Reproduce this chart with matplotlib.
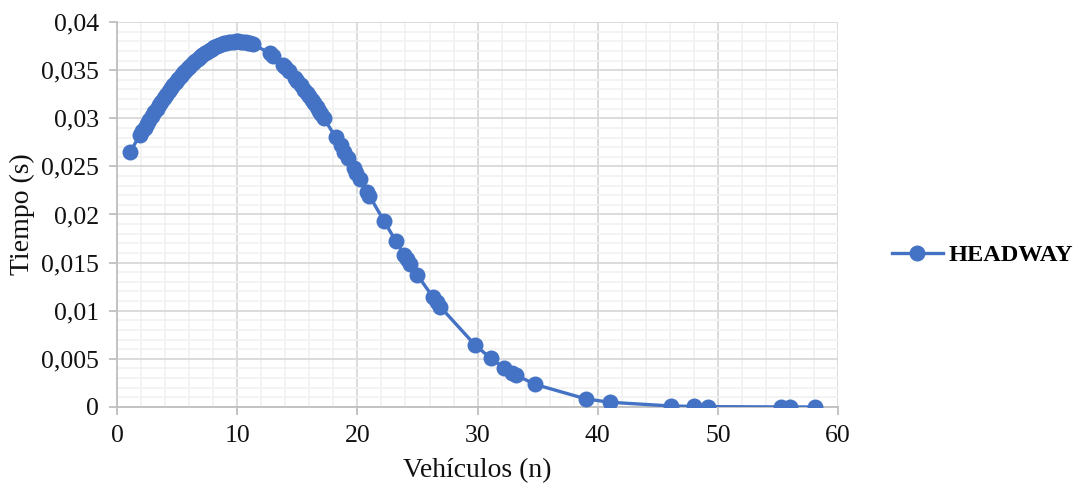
import matplotlib
matplotlib.use("Agg")
import matplotlib.pyplot as plt
from matplotlib.ticker import FuncFormatter, MultipleLocator

# Headway measurements: vehicle count (n) vs time (s)
vehiculos = [
    1.1, 1.9, 2.1, 2.3, 2.5, 2.7, 2.9, 3.1, 3.3, 3.5, 3.7, 3.9, 4.1, 4.3, 4.5,
    4.7, 4.9, 5.1, 5.3, 5.5, 5.7, 5.9, 6.1, 6.3, 6.5, 6.7, 6.9, 7.1, 7.3, 7.5,
    7.7, 7.9, 8.1, 8.3, 8.5, 8.7, 8.9, 9.1, 9.3, 9.5, 9.7, 9.9, 10.1, 10.3,
    10.5, 10.7, 10.9, 11.1, 11.3, 12.7, 13.0, 13.8, 14.0, 14.3, 14.8, 15.0,
    15.3, 15.6, 15.8, 16.0, 16.2, 16.4, 16.6, 16.8, 17.0, 17.2, 18.2, 18.6,
    18.9, 19.2, 19.7, 19.9, 20.2, 20.8, 21.0, 22.2, 23.2, 23.9, 24.1, 24.4,
    25.0, 26.3, 26.6, 26.9, 29.8, 31.1, 32.2, 32.9, 33.2, 34.8, 39.0, 41.0,
    46.1, 48.0, 49.2, 55.2, 56.0, 58.1,
]
headway = [
    0.02653, 0.02821, 0.02863, 0.02903, 0.02944, 0.02983, 0.03023, 0.03061,
    0.03099, 0.03136, 0.03173, 0.03209, 0.03244, 0.03279, 0.03312, 0.03345,
    0.03376, 0.03407, 0.03437, 0.03466, 0.03493, 0.03520, 0.03546, 0.03570,
    0.03594, 0.03616, 0.03637, 0.03657, 0.03676, 0.03693, 0.03709, 0.03724,
    0.03737, 0.03750, 0.03760, 0.03770, 0.03778, 0.03785, 0.03791, 0.03795,
    0.03797, 0.03799, 0.03799, 0.03797, 0.03795, 0.03791, 0.03785, 0.03778,
    0.03770, 0.03676, 0.03647, 0.03558, 0.03533, 0.03493, 0.03422, 0.03392,
    0.03345, 0.03295, 0.03261, 0.03227, 0.03191, 0.03155, 0.03118, 0.03080,
    0.03042, 0.03003, 0.02801, 0.02717, 0.02653, 0.02588, 0.02480, 0.02436,
    0.02370, 0.02238, 0.02195, 0.01935, 0.01724, 0.01582, 0.01542, 0.01483,
    0.01369, 0.01139, 0.01089, 0.01040, 0.00642, 0.00505, 0.00406, 0.00352,
    0.00331, 0.00234, 0.00084, 0.00049, 0.000103, 0.0000544, 0.0000357,
    0.0000036, 0.0000026, 0.0000011,
]
serie = "HEADWAY"
x_label = "Vehículos (n)"
y_label = "Tiempo (s)"

plt.rcParams["font.family"] = ["Liberation Serif", "DejaVu Serif"]

fig = plt.figure(figsize=(10.83, 4.86), dpi=100)
ax = fig.add_axes([0.108, 0.1626, 0.666, 0.7921])

blue = "#4472C4"
line, = ax.plot(vehiculos, headway, color=blue, lw=2.4, marker="o",
                markersize=11.5, markeredgewidth=0, zorder=3, label=serie)

ax.set_xlim(0, 60)
ax.set_ylim(0, 0.04)
ax.xaxis.set_major_locator(MultipleLocator(10))
ax.xaxis.set_minor_locator(MultipleLocator(2))
ax.yaxis.set_major_locator(MultipleLocator(0.005))
ax.yaxis.set_minor_locator(MultipleLocator(0.001))

def coma(v, pos):
    if abs(v) < 1e-12:
        return "0"
    s = ("%.3f" % v).rstrip("0").rstrip(".")
    return s.replace(".", ",")

ax.yaxis.set_major_formatter(FuncFormatter(coma))
ax.xaxis.set_major_formatter(FuncFormatter(lambda v, p: "%d" % v))

ax.grid(which="minor", color="#f2f2f2", lw=1.3, zorder=0)
ax.grid(which="major", color="#d9d9d9", lw=1.3, zorder=1)
ax.set_axisbelow(True)

for side in ("top", "right"):
    ax.spines[side].set_visible(False)
for side in ("left", "bottom"):
    ax.spines[side].set_color("#bfbfbf")
    ax.spines[side].set_linewidth(1.3)

ax.tick_params(which="major", direction="out", length=6, width=1.3,
               color="#bfbfbf", labelsize=18.5, pad=7, labelcolor="#111111")
ax.tick_params(which="minor", length=0)

ax.set_xlabel(x_label, fontsize=20, labelpad=8, color="#111111")
ax.set_ylabel(y_label, fontsize=20, labelpad=4, color="#111111")

fig.legend(handles=[line], loc="center left", bbox_to_anchor=(0.803, 0.475),
           frameon=False, handlelength=2.1, handletextpad=0.25,
           prop={"size": 17.5, "weight": "bold"})

fig.savefig("out.png", dpi=100)
